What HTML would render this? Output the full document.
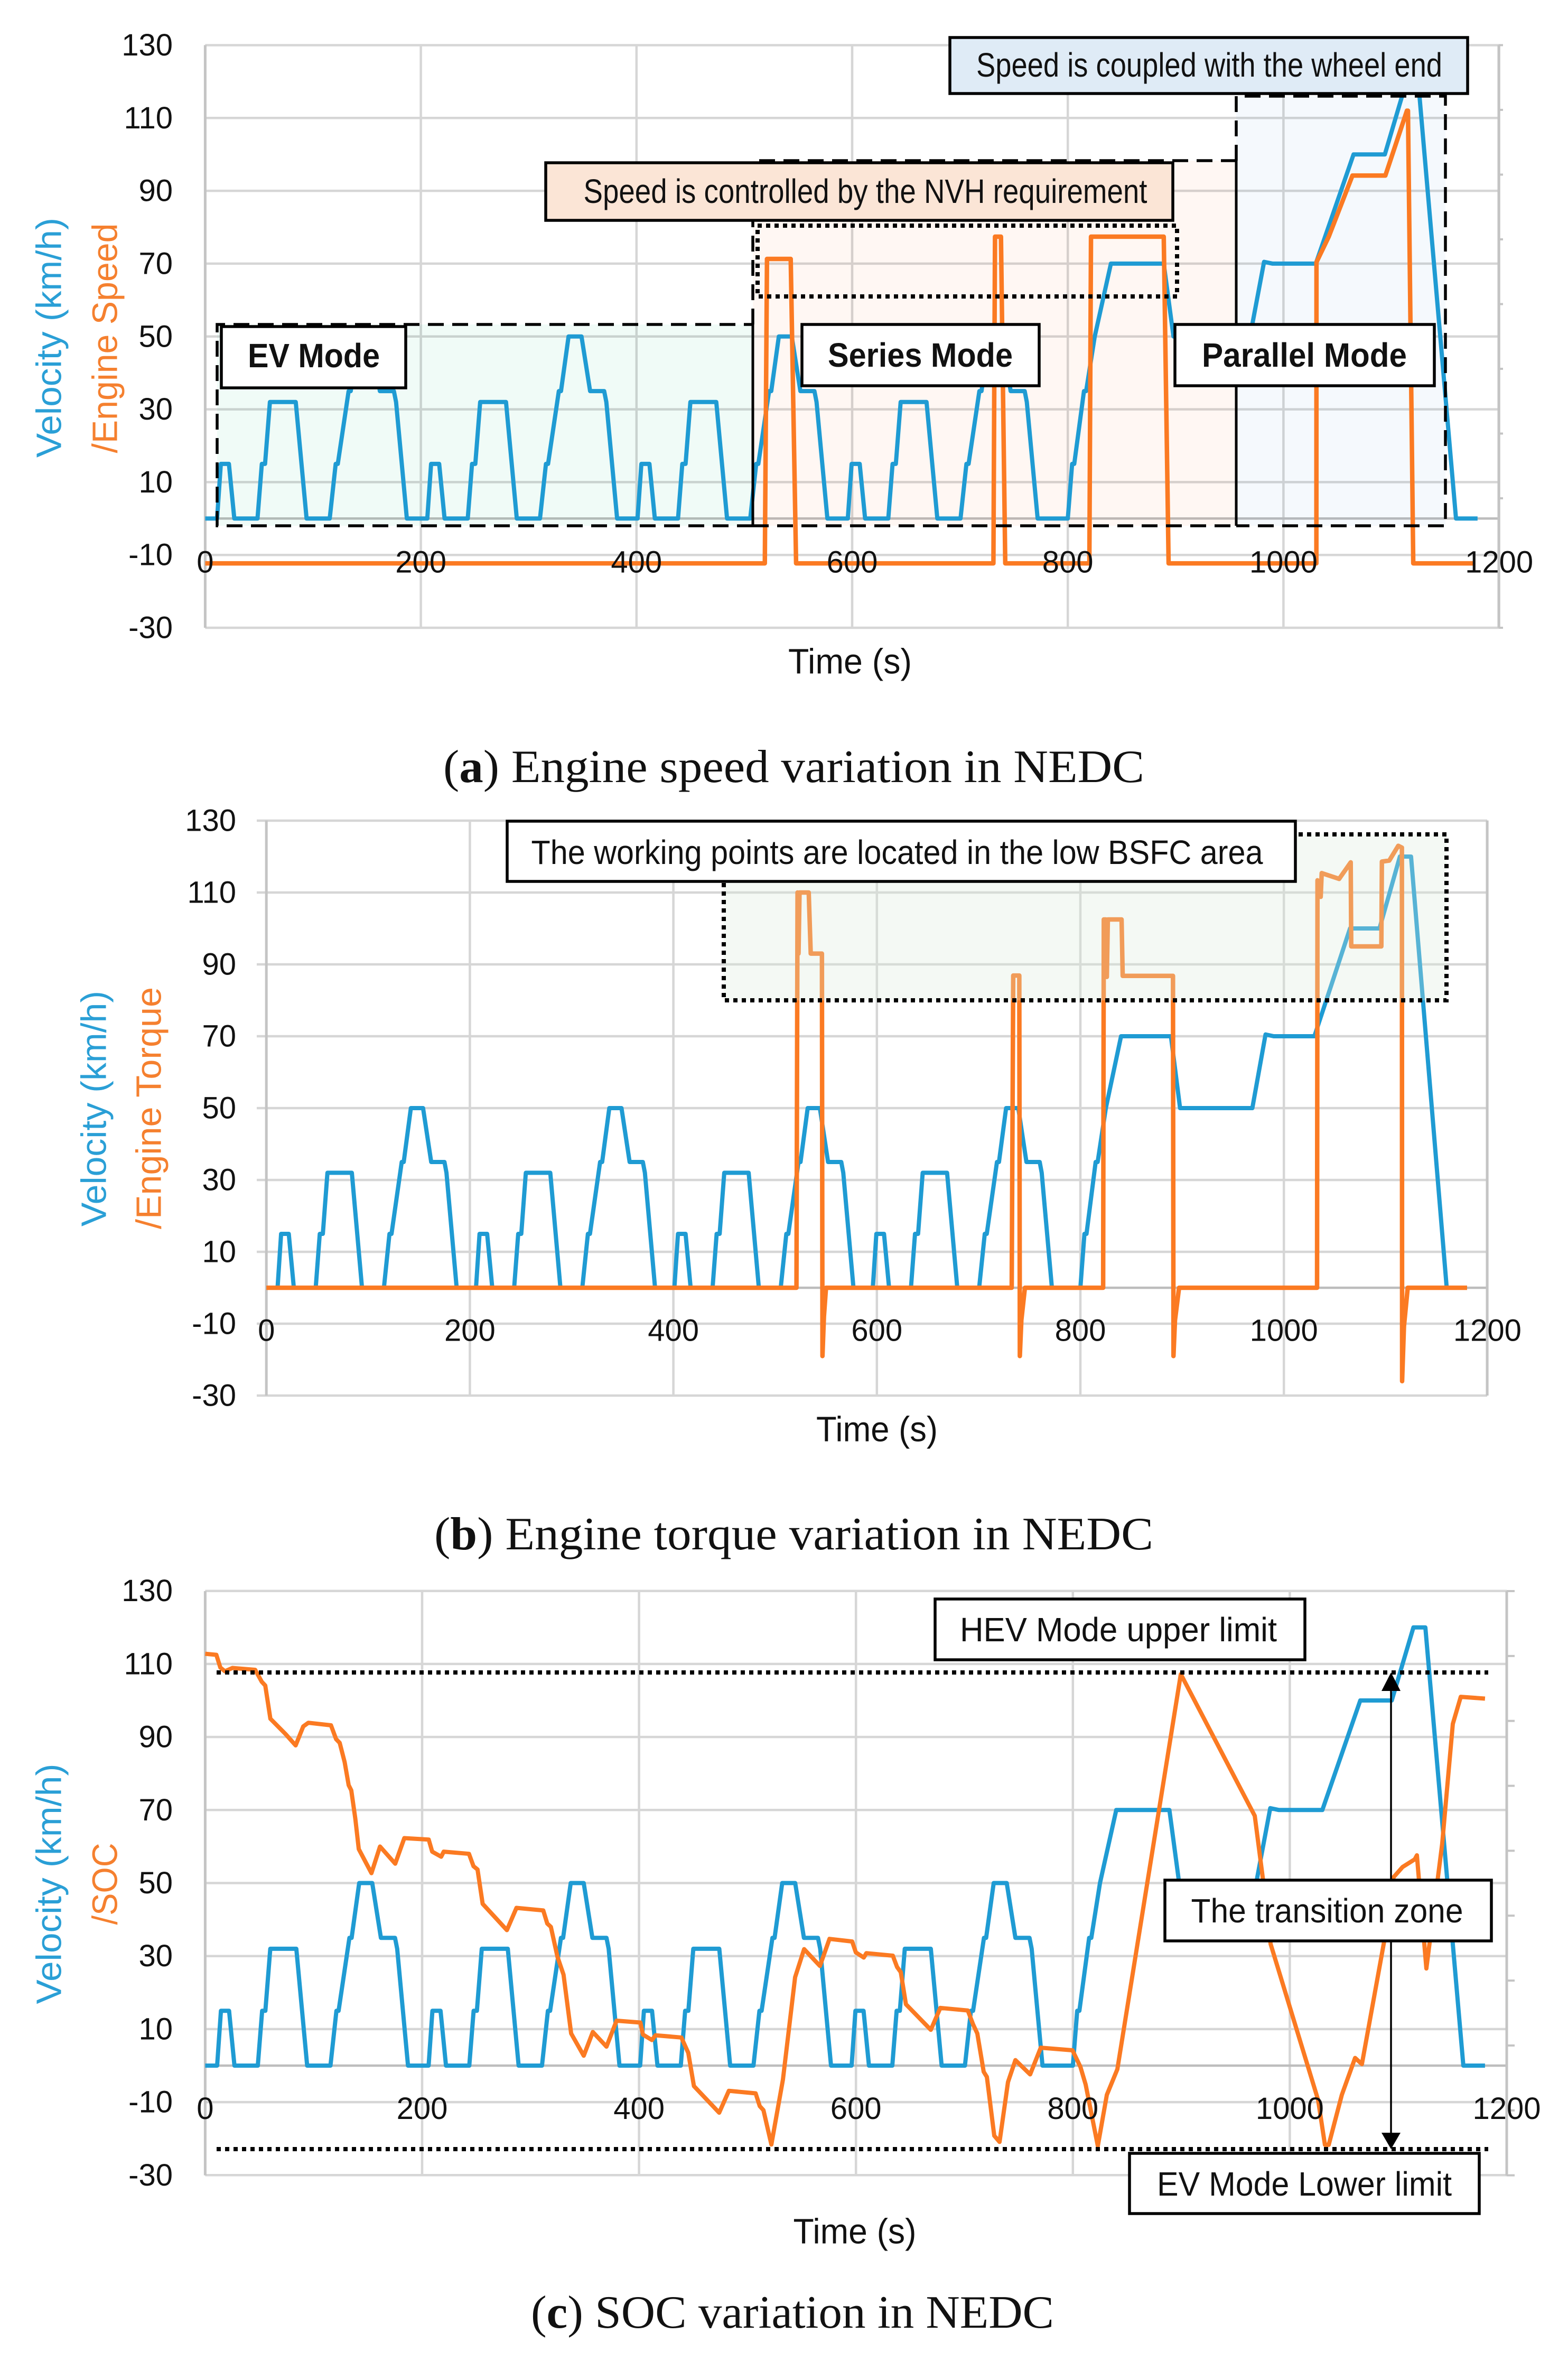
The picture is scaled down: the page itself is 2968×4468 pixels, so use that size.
<!DOCTYPE html>
<html lang="en">
<head>
<meta charset="utf-8">
<title>Engine speed, torque and SOC variation in NEDC</title>
<style>
html,body{margin:0;padding:0;background:#fff;}
svg{display:block;}
text{font-family:"Liberation Sans",sans-serif;fill:#111;}
.cap{font-family:"Liberation Serif",serif;font-size:88px;fill:#111;}
.tick{font-size:58px;}
.title{font-size:67px;}
.lab{font-size:64px;}
.labb{font-size:64px;font-weight:bold;}
.blue{fill:#2a9fd6;}
.orange{fill:#f5802f;}
.dash{fill:none;stroke:#000;stroke-width:5.5;stroke-dasharray:30 16;}
.dot{fill:none;stroke:#000;stroke-width:8;stroke-dasharray:8 8;}
.solid{stroke:#000;stroke-width:5;}
.box{stroke:#000;stroke-width:5.5;}
</style>
</head>
<body>
<svg xmlns="http://www.w3.org/2000/svg" width="2968" height="4468" viewBox="0 0 2968 4468">
<rect x="0" y="0" width="2968" height="4468" fill="#fff"/>

<!-- CHART A -->
<g>
  <g id="a-grid"></g>
  <g>
    <rect x="411" y="614" width="1014" height="381" fill="#f0fbf7" style="mix-blend-mode:multiply"/>
    <rect x="1425" y="304" width="915" height="691" fill="#fff7f3" style="mix-blend-mode:multiply"/>
    <rect x="2340" y="182" width="396" height="813" fill="#f5f9fd" style="mix-blend-mode:multiply"/>
  </g>
  <g id="a-series"></g>
  <g>
    <path class="dash" d="M1425 995H411V614H1425"/>
    <line class="solid" x1="1425" y1="614" x2="1425" y2="995"/>
    <path class="dash" d="M1425 614V304H2340M1425 995H2340"/>
    <line class="solid" x1="2340" y1="304" x2="2340" y2="995"/>
    <path class="dash" d="M2340 304V182H2736V995H2340"/>
    <rect class="dot" x="1434" y="427" width="794" height="134"/>
  </g>
  <g>
    <rect class="box" x="1033" y="308" width="1187" height="109" fill="#fbe5d6"/>
    <text class="lab" x="1638" y="362" text-anchor="middle" dominant-baseline="central" textLength="1067" lengthAdjust="spacingAndGlyphs">Speed is controlled by the NVH requirement</text>
    <rect class="box" x="1798" y="71" width="980" height="106" fill="#dfebf6"/>
    <text class="lab" x="2289" y="123" text-anchor="middle" dominant-baseline="central" textLength="882" lengthAdjust="spacingAndGlyphs">Speed is coupled with the wheel end</text>
    <rect class="box" x="419" y="618" width="349" height="116" fill="#fff"/>
    <text class="labb" x="594" y="673" text-anchor="middle" dominant-baseline="central" textLength="250" lengthAdjust="spacingAndGlyphs">EV Mode</text>
    <rect class="box" x="1518" y="614" width="449" height="116" fill="#fff"/>
    <text class="labb" x="1742" y="672" text-anchor="middle" dominant-baseline="central" textLength="350" lengthAdjust="spacingAndGlyphs">Series Mode</text>
    <rect class="box" x="2224" y="614" width="491" height="116" fill="#fff"/>
    <text class="labb" x="2469" y="672" text-anchor="middle" dominant-baseline="central" textLength="388" lengthAdjust="spacingAndGlyphs">Parallel Mode</text>
  </g>
  <g id="a-ticks"></g>
  <text class="title" x="1609" y="1252" text-anchor="middle" dominant-baseline="central" textLength="234" lengthAdjust="spacingAndGlyphs">Time (s)</text>
  <text class="title blue" transform="translate(93 639) rotate(-90)" text-anchor="middle" dominant-baseline="central" textLength="454" lengthAdjust="spacingAndGlyphs">Velocity (km/h)</text>
  <text class="title orange" transform="translate(199 640) rotate(-90)" text-anchor="middle" dominant-baseline="central" textLength="435" lengthAdjust="spacingAndGlyphs">/Engine Speed</text>
  <text class="cap" x="839" y="1480" textLength="1327" lengthAdjust="spacingAndGlyphs">(<tspan font-weight="bold">a</tspan>) Engine speed variation in NEDC</text>
</g>

<!-- CHART B -->
<g>
  <g id="b-grid"></g>
  <g id="b-series"></g>
  <rect x="1370" y="1579" width="1368" height="314" fill="rgb(218,235,218)" fill-opacity="0.3"/>
  <rect class="dot" x="1370" y="1579" width="1368" height="314"/>
  <rect class="box" x="960" y="1554" width="1492" height="114" fill="#fff"/>
  <text class="lab" x="1698" y="1613" text-anchor="middle" dominant-baseline="central" textLength="1385" lengthAdjust="spacingAndGlyphs">The working points are located in the low BSFC area</text>
  <g id="b-ticks"></g>
  <text class="title" x="1660" y="2705" text-anchor="middle" dominant-baseline="central" textLength="230" lengthAdjust="spacingAndGlyphs">Time (s)</text>
  <text class="title blue" transform="translate(178 2098) rotate(-90)" text-anchor="middle" dominant-baseline="central" textLength="446" lengthAdjust="spacingAndGlyphs">Velocity (km/h)</text>
  <text class="title orange" transform="translate(282 2097) rotate(-90)" text-anchor="middle" dominant-baseline="central" textLength="458" lengthAdjust="spacingAndGlyphs">/Engine Torque</text>
  <text class="cap" x="822" y="2932" textLength="1361" lengthAdjust="spacingAndGlyphs">(<tspan font-weight="bold">b</tspan>) Engine torque variation in NEDC</text>
</g>

<!-- CHART C -->
<g>
  <g id="c-grid"></g>
  <g id="c-series"></g>
  <line class="dot" x1="410" y1="3165" x2="2817" y2="3165"/>
  <line class="dot" x1="410" y1="4067" x2="2817" y2="4067"/>
  <g>
    <line x1="2633" y1="3190" x2="2633" y2="4045" stroke="#000" stroke-width="3.5"/>
    <polygon points="2633,3165 2615,3200 2651,3200" fill="#000"/>
    <polygon points="2633,4067 2615,4036 2651,4036" fill="#000"/>
  </g>
  <rect class="box" x="1770" y="3026" width="700" height="115" fill="#fff"/>
  <text class="lab" x="2117" y="3084" text-anchor="middle" dominant-baseline="central" textLength="600" lengthAdjust="spacingAndGlyphs">HEV Mode upper limit</text>
  <rect class="box" x="2205" y="3558" width="618" height="115" fill="#fff"/>
  <text class="lab" x="2512" y="3616" text-anchor="middle" dominant-baseline="central" textLength="515" lengthAdjust="spacingAndGlyphs">The transition zone</text>
  <rect class="box" x="2138" y="4075" width="662" height="114" fill="#fff"/>
  <text class="lab" x="2469" y="4133" text-anchor="middle" dominant-baseline="central" textLength="558" lengthAdjust="spacingAndGlyphs">EV Mode Lower limit</text>
  <g id="c-ticks"></g>
  <text class="title" x="1618" y="4223" text-anchor="middle" dominant-baseline="central" textLength="233" lengthAdjust="spacingAndGlyphs">Time (s)</text>
  <text class="title blue" transform="translate(93 3565) rotate(-90)" text-anchor="middle" dominant-baseline="central" textLength="455" lengthAdjust="spacingAndGlyphs">Velocity (km/h)</text>
  <text class="title orange" transform="translate(199 3565) rotate(-90)" text-anchor="middle" dominant-baseline="central" textLength="155" lengthAdjust="spacingAndGlyphs">/SOC</text>
  <text class="cap" x="1005" y="4405" textLength="990" lengthAdjust="spacingAndGlyphs">(<tspan font-weight="bold">c</tspan>) SOC variation in NEDC</text>
</g>
</svg>

<script>
const yTickLabels = [130, 110, 90, 70, 50, 30, 10, -10, -30];
const xTickLabels = [0, 200, 400, 600, 800, 1000, 1200];
const secondaryAxisSteps = [0, 1, 2, 3, 4, 5, 6, 7, 8, 9];

const velocityTime = [
  0,11,14.5,22,27,48.5,52.5,55.5,60,84,94,115.5,121,123,133,135,142,154,162,175,177,187,
  206,209.5,217,222,243.5,247.5,250.5,255,279,289,310.5,316,318,328,330,337,349,357,370,372,382,
  401,404.5,412,417,438.5,442.5,445.5,450,474,484,505.5,511,513,523,525,532,544,552,565,567,577,
  596,599.5,607,612,633.5,637.5,640.5,645,669,679,700.5,706,708,718,720,727,739,747,760,762,772,
  800,804,806,815,817,825,840,889,898,969,982,990,1030,1065,1094,1114,1125,1160,1180
];
const velocityValues = [
  0,0,15,15,0,0,15,15,32,32,0,0,15,15,35,35,50,50,35,35,32,0,
  0,15,15,0,0,15,15,32,32,0,0,15,15,35,35,50,50,35,35,32,0,
  0,15,15,0,0,15,15,32,32,0,0,15,15,35,35,50,50,35,35,32,0,
  0,15,15,0,0,15,15,32,32,0,0,15,15,35,35,50,50,35,35,32,0,
  0,15,15,35,35,50,70,70,50,50,70.5,70,70,100,100,120,120,0,0
];

const engineSpeedTime = [0,519,521,543,548,731,732.5,738,742,820,821.5,889,893.5,1030.5,1030.6,1042,1064,1094.5,1114.5,1115.5,1120.4,1177];
const engineSpeedValues = [-12.3,-12.3,71.3,71.3,-12.3,-12.3,77.4,77.4,-12.3,-12.3,77.4,77.4,-12.3,-12.3,70.4,77.4,94.2,94.2,112,112,-12.3,-12.3];

const torqueTime = [0,521,522,523,524,533,535,546,546.5,548,550,732.5,734,740,740.5,742,745.5,822.4,823,825,826,827,840.5,841.6,891,891.5,893,897,1032.6,1033,1036.2,1037.2,1054.3,1065.7,1066.2,1095.8,1096.3,1103.6,1112.4,1116,1116.2,1118,1121.7,1180];
const torqueValues = [0,0,110,93,110,110,93,93,-19,-8,0,0,86.9,86.9,-19,-9,0,0,102.5,102.5,86.5,102.5,102.5,86.8,86.8,-19,-9,0,0,113.4,108.8,115.4,113.8,118.4,95,95,118.6,118.9,123,122.5,-26,-10.7,0,0];

const socTime = [0,10.3,14,18.2,25.1,46.1,52.2,55.4,60.1,74.1,83.4,90.4,95.1,116,120.7,124,128.6,132.3,134.7,138.4,141.6,153.3,161.2,175.2,183.6,206.1,209.3,217.6,219.9,243.2,247.4,251.1,255.8,278.2,287,311.7,315.4,318.7,324.8,330.4,337.4,349,357.4,370,379.3,401.2,403.6,411.9,415.2,439,445.4,450.6,473.9,482.8,507.5,511.3,514.7,522,532.7,543.9,552.2,566.8,575.6,596.5,599.9,607.2,609.6,634,637.9,641.3,646.1,669,677.8,703.1,708,711.9,717.8,720.7,727.5,732.4,740.2,747,760.6,770.4,799.6,806.9,811.8,823,831.3,841,899.5,967.7,975,982.3,1026.1,1032.4,1035.9,1048,1060.2,1066.5,1087,1095.7,1104,1115.2,1117.2,1125.9,1140.5,1150.3,1157.6,1180];
const socValues = [112.8,112.5,109,108,108.9,108.4,105.1,104.1,95,90.8,87.7,92.9,93.9,93.2,89.4,88.4,83.1,76.8,75.4,67.7,59.3,52.7,60,55.3,62.3,61.9,58.6,57.2,58.6,58,54.6,53.7,44.3,37.1,43.2,42.5,38.9,38,29.8,24.9,8.8,2.7,9.2,5.2,12.3,11.8,8.5,7,8.3,7.7,3.5,-5.6,-12.9,-6.9,-7.6,-11.1,-12.2,-21.6,-3.8,24.2,31.9,27.3,34.7,34,31,29.6,30.8,30.1,27,25.6,16.8,9.8,15.8,15.1,11.3,8.8,-1.7,-3.1,-19.2,-20.9,-4.5,1.5,-2.4,4.9,4.2,-0.3,-5.2,-22,-8,-1,107.2,68.4,51.6,33.3,-9.4,-21.7,-21.7,-8,2.1,0.4,34,51.6,54.4,56.5,57.6,26.6,60.7,93.6,101,100.5];

const chartA = {left:388.4,right:2837,top:85.4,bottom:1188,xPerSec:2.041,yZero:981.3,yPerUnit:6.891,gridStart:388.4,labelRight:327,xLabelY:1064,secondaryLen:8};
const chartB = {left:504.2,right:2815,top:1552.7,bottom:2641,xPerSec:1.926,yZero:2437,yPerUnit:6.80,gridStart:486,labelRight:447,xLabelY:2518,secondaryLen:0};
const chartC = {left:388.4,right:2852,top:3011,bottom:4116.6,xPerSec:2.053,yZero:3909,yPerUnit:6.91,gridStart:388.4,labelRight:327,xLabelY:3990.6,secondaryLen:15};

const SVG_NS = 'http://www.w3.org/2000/svg';

function xScale(chart, t) {
  return chart.left + t * chart.xPerSec;
}
function yScale(chart, v) {
  return chart.yZero - v * chart.yPerUnit;
}
function addNode(tag, parent) {
  const node = document.createElementNS(SVG_NS, tag);
  parent.appendChild(node);
  return node;
}
function setLine(node, x1, y1, x2, y2, color, width) {
  node.setAttribute('x1', x1);
  node.setAttribute('y1', y1);
  node.setAttribute('x2', x2);
  node.setAttribute('y2', y2);
  node.setAttribute('stroke', color);
  node.setAttribute('stroke-width', width);
}

function drawGrid(chart, group) {
  yTickLabels.forEach(function (v) {
    const el = addNode('line', group);
    
    
    const y = yScale(chart, v);
    setLine(el, chart.gridStart, y, chart.right, y, '#d6d6d6', 4.5);
  });
  xTickLabels.forEach(function (t) {
    const el = addNode('line', group);
    
    
    const x = xScale(chart, t);
    setLine(el, x, chart.top, x, chart.bottom, t === 0 ? '#c4c4c4' : '#d6d6d6', t === 0 ? 5 : 4.5);
  });
  const zero = addNode('line', group);
  
  
  setLine(zero, chart.left, yScale(chart, 0), chart.right, yScale(chart, 0), '#bdbdbd', 4.5);
  const rightAxis = addNode('line', group);
  
  
  setLine(rightAxis, chart.right, chart.top, chart.right, chart.bottom, '#c4c4c4', 5);
  if (chart.secondaryLen > 0) {
    secondaryAxisSteps.forEach(function (step) {
      const el = addNode('line', group);
      
      
      const last = secondaryAxisSteps[secondaryAxisSteps.length - 1];
      const y = chart.top + (chart.bottom - chart.top) * step / last;
      setLine(el, chart.right, y, chart.right + chart.secondaryLen, y, '#c4c4c4', 4);
    });
  }
}

function drawTickLabels(chart, group) {
  yTickLabels.forEach(function (v) {
    const el = addNode('text', group);
    
    
    el.setAttribute('class', 'tick');
    el.setAttribute('x', chart.labelRight);
    el.setAttribute('y', yScale(chart, v));
    el.setAttribute('text-anchor', 'end');
    el.setAttribute('dominant-baseline', 'central');
    el.textContent = String(v);
  });
  xTickLabels.forEach(function (t) {
    const el = addNode('text', group);
    
    
    el.setAttribute('class', 'tick');
    el.setAttribute('x', xScale(chart, t));
    el.setAttribute('y', chart.xLabelY);
    el.setAttribute('text-anchor', 'middle');
    el.setAttribute('dominant-baseline', 'central');
    el.textContent = String(t);
  });
}

function pointsFor(chart, times, values) {
  return times.map(function (t, i) {
    return xScale(chart, t).toFixed(1) + ',' + yScale(chart, values[i]).toFixed(1);
  }).join(' ');
}

function drawVelocity(chart, group) {
  const el = addNode('polyline', group);
  
  
  el.setAttribute('points', pointsFor(chart, velocityTime, velocityValues));
  el.setAttribute('fill', 'none');
  el.setAttribute('stroke', '#1f9bd3');
  el.setAttribute('stroke-width', '8');
  el.setAttribute('stroke-linejoin', 'round');
}

function drawOrange(chart, group, times, values, width) {
  const el = addNode('polyline', group);
  
  
  el.setAttribute('points', pointsFor(chart, times, values));
  el.setAttribute('fill', 'none');
  el.setAttribute('stroke', '#fb7a22');
  el.setAttribute('stroke-width', width);
  el.setAttribute('stroke-linejoin', 'round');
}

drawGrid(chartA, document.getElementById('a-grid'));
drawVelocity(chartA, document.getElementById('a-series'));
drawOrange(chartA, document.getElementById('a-series'), engineSpeedTime, engineSpeedValues, 8.5);
drawTickLabels(chartA, document.getElementById('a-ticks'));

drawGrid(chartB, document.getElementById('b-grid'));
drawVelocity(chartB, document.getElementById('b-series'));
drawOrange(chartB, document.getElementById('b-series'), torqueTime, torqueValues, 8.5);
drawTickLabels(chartB, document.getElementById('b-ticks'));

drawGrid(chartC, document.getElementById('c-grid'));
drawVelocity(chartC, document.getElementById('c-series'));
drawOrange(chartC, document.getElementById('c-series'), socTime, socValues, 8);
drawTickLabels(chartC, document.getElementById('c-ticks'));
</script>
</body>
</html>
